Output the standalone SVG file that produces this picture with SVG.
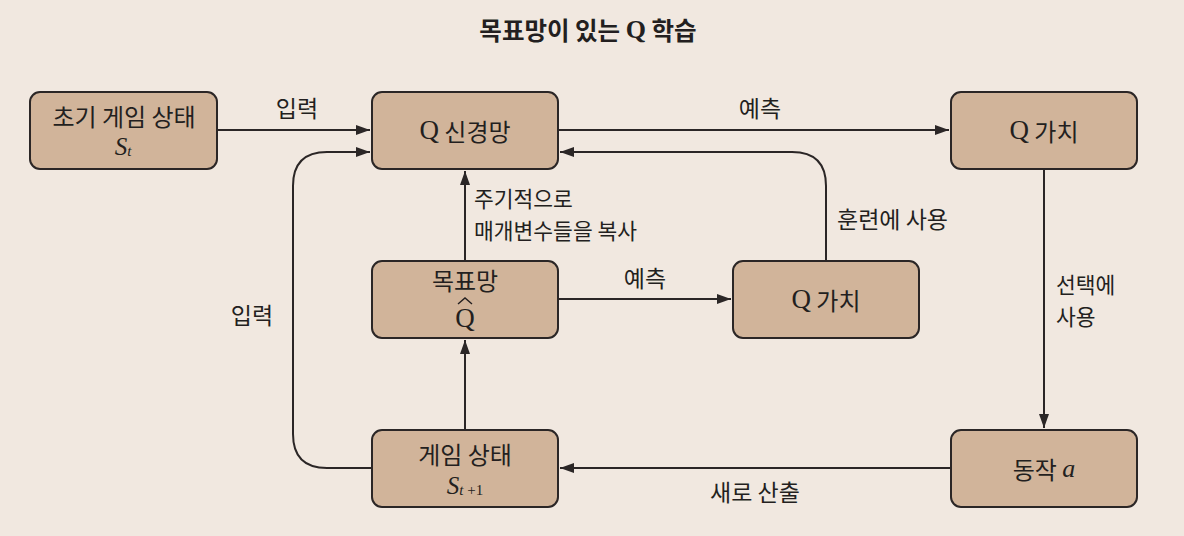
<svg xmlns="http://www.w3.org/2000/svg" width="1184" height="536" viewBox="0 0 1184 536">
<defs>
<style>
.bg{fill:#f1e8e0}
.box{fill:#d1b49a;stroke:#2b2626;stroke-width:2}
.t{font-family:"Noto Sans CJK KR","Noto Sans",sans-serif;font-size:24px;fill:#231f20;text-anchor:middle;dominant-baseline:central}
.lbl{font-family:"Noto Sans CJK KR","Noto Sans",sans-serif;font-size:23px;fill:#231f20;dominant-baseline:central}
.lbl2{font-family:"Noto Sans CJK KR","Noto Sans",sans-serif;font-size:21.5px;fill:#231f20;dominant-baseline:central}
.q{font-family:"Liberation Serif",serif}
.it{font-family:"Liberation Serif",serif;font-style:italic}
.c{fill:none;stroke:#2b2626;stroke-width:2}
</style>
<marker id="ah" viewBox="0 0 14 10" refX="14" refY="5" markerWidth="14" markerHeight="10" markerUnits="userSpaceOnUse" orient="auto">
<path d="M0,0 L14,5 L0,10 Z" fill="#2b2626"/>
</marker>
</defs>
<rect class="bg" x="0" y="0" width="1184" height="536"/>
<text class="t" x="588" y="29" style="font-weight:bold;font-size:24.5px">목표망이 있는 <tspan class="q" style="font-size:26px">Q</tspan> 학습</text>

<g id="connectors">
<path class="c" d="M217,130 H370" marker-end="url(#ah)"/>
<path class="c" d="M558,130 H949" marker-end="url(#ah)"/>
<path class="c" d="M826,261 V186 Q826,152 792,152 H560" marker-end="url(#ah)"/>
<path class="c" d="M465,261 V171" marker-end="url(#ah)"/>
<path class="c" d="M558,299 H731" marker-end="url(#ah)"/>
<path class="c" d="M465,430 V340" marker-end="url(#ah)"/>
<path class="c" d="M372,468 H327 Q293,468 293,434 V186 Q293,152 327,152 H370" marker-end="url(#ah)"/>
<path class="c" d="M1044,169 V428" marker-end="url(#ah)"/>
<path class="c" d="M951,468 H560" marker-end="url(#ah)"/>
<text class="lbl" x="297" y="107" text-anchor="middle">입력</text>
<text class="lbl" x="760" y="107" text-anchor="middle">예측</text>
<text class="lbl" x="837" y="218">훈련에 사용</text>
<text class="lbl2" x="474" y="197">주기적으로</text>
<text class="lbl2" x="474" y="229">매개변수들을 복사</text>
<text class="lbl" x="645" y="277" text-anchor="middle">예측</text>
<text class="lbl" x="252" y="314" text-anchor="middle">입력</text>
<text class="lbl2" x="1056" y="283">선택에</text>
<text class="lbl2" x="1056" y="315">사용</text>
<text class="lbl" x="755" y="491" text-anchor="middle">새로 산출</text>
</g>

<g id="init">
<rect class="box" x="30" y="92" width="187" height="77" rx="10"/>
<text class="t" x="124" y="115">초기 게임 상태</text>
<text class="t it" x="123" y="146" style="font-size:25px">S<tspan style="font-size:15px" dy="5">t</tspan></text>
</g>
<g id="qnet">
<rect class="box" x="372" y="92" width="186" height="77" rx="10"/>
<text class="t" x="465" y="130"><tspan class="q" style="font-size:27px">Q</tspan> 신경망</text>
</g>
<g id="qval1">
<rect class="box" x="951" y="92" width="186" height="77" rx="10"/>
<text class="t" x="1044" y="130"><tspan class="q" style="font-size:27px">Q</tspan> 가치</text>
</g>
<g id="target">
<rect class="box" x="372" y="261" width="186" height="77" rx="10"/>
<text class="t" x="465" y="279">목표망</text>
<text class="t q" x="465" y="318" style="font-size:27px">Q</text>
<path d="M458,304 L465,298 L472,304" fill="none" stroke="#231f20" stroke-width="1.4"/>
</g>
<g id="qval2">
<rect class="box" x="733" y="261" width="186" height="77" rx="10"/>
<text class="t" x="826" y="299"><tspan class="q" style="font-size:27px">Q</tspan> 가치</text>
</g>
<g id="state">
<rect class="box" x="372" y="430" width="186" height="77" rx="10"/>
<text class="t" x="465" y="453">게임 상태</text>
<text class="t it" x="465" y="485" style="font-size:25px">S<tspan style="font-size:15px" dy="5">t</tspan><tspan style="font-size:15px;font-style:normal"> +1</tspan></text>
</g>
<g id="action">
<rect class="box" x="951" y="430" width="186" height="77" rx="10"/>
<text class="t" x="1044" y="468">동작 <tspan class="it" style="font-size:26px">a</tspan></text>
</g>
</svg>
